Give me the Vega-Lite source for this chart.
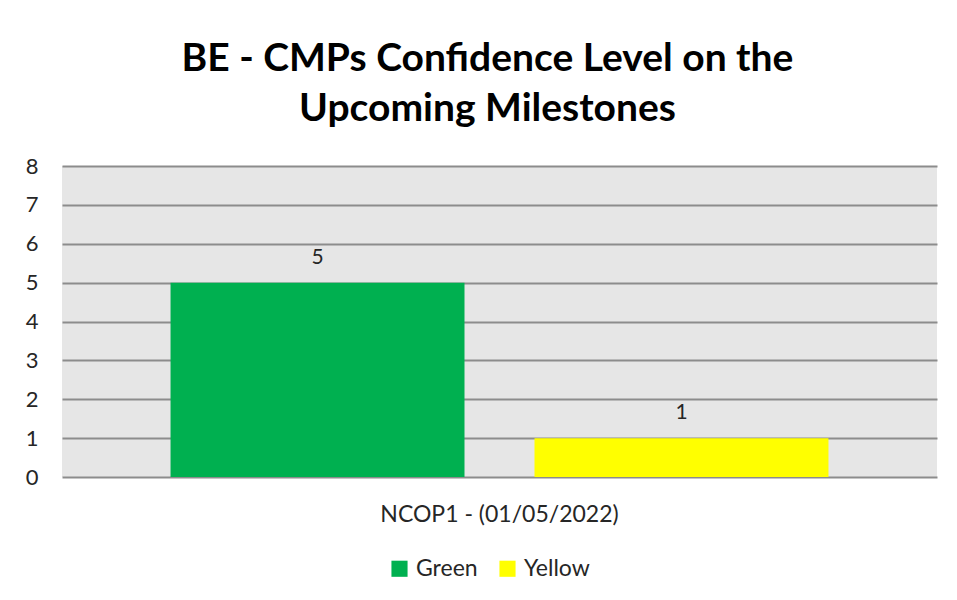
{
  "$schema": "https://vega.github.io/schema/vega-lite/v6.json",
  "autosize": "none",
  "width": 875,
  "height": 311,
  "padding": {"left": 62, "top": 166, "right": 20, "bottom": 123},
  "background": "white",
  "title": {
    "text": ["BE - CMPs Confidence Level on the", "Upcoming Milestones"],
    "font": "Lato",
    "fontSize": 39,
    "fontWeight": "bold",
    "color": "#000000",
    "lineHeight": 50,
    "anchor": "middle",
    "dx": -12,
    "offset": 26
  },
  "data": {
    "values": [
      {"milestone": "NCOP1 - (01/05/2022)", "confidence": "Green", "count": 5},
      {"milestone": "NCOP1 - (01/05/2022)", "confidence": "Yellow", "count": 1}
    ]
  },
  "config": {
    "view": {"fill": "#e6e6e6", "stroke": null},
    "font": "Lato"
  },
  "encoding": {
    "x": {
      "field": "milestone",
      "type": "nominal",
      "scale": {"paddingInner": 0, "paddingOuter": 0.101},
      "axis": {
        "title": null,
        "labelAngle": 0,
        "labelFontSize": 23,
        "labelColor": "#262626",
        "labelPadding": 26,
        "labelLimit": 0,
        "domain": false,
        "ticks": false
      }
    },
    "xOffset": {
      "field": "confidence",
      "type": "nominal",
      "scale": {"paddingInner": 0.1923, "paddingOuter": 0.0962}
    },
    "y": {
      "field": "count",
      "type": "quantitative",
      "scale": {"domain": [0, 8], "nice": false},
      "axis": {
        "title": null,
        "values": [0, 1, 2, 3, 4, 5, 6, 7, 8],
        "labelFontSize": 22,
        "labelColor": "#262626",
        "labelPadding": 24,
        "domain": false,
        "ticks": false,
        "grid": true,
        "gridColor": "#8c8c8c",
        "gridWidth": 2
      }
    }
  },
  "layer": [
    {
      "mark": {"type": "bar"},
      "encoding": {
        "color": {
          "field": "confidence",
          "type": "nominal",
          "scale": {"domain": ["Green", "Yellow"], "range": ["#00b050", "#ffff00"]},
          "legend": {
            "title": null,
            "orient": "none",
            "direction": "horizontal",
            "legendX": 326,
            "legendY": 391,
            "symbolType": "square",
            "symbolSize": 260,
            "symbolStrokeWidth": 0,
            "symbolOpacity": 1,
            "labelFontSize": 23,
            "labelColor": "#262626",
            "labelOffset": 5,
            "columnPadding": 18
          }
        }
      }
    },
    {
      "mark": {"type": "text", "dy": -25, "fontSize": 21, "color": "#262626"},
      "encoding": {
        "text": {"field": "count", "type": "quantitative"}
      }
    }
  ]
}
